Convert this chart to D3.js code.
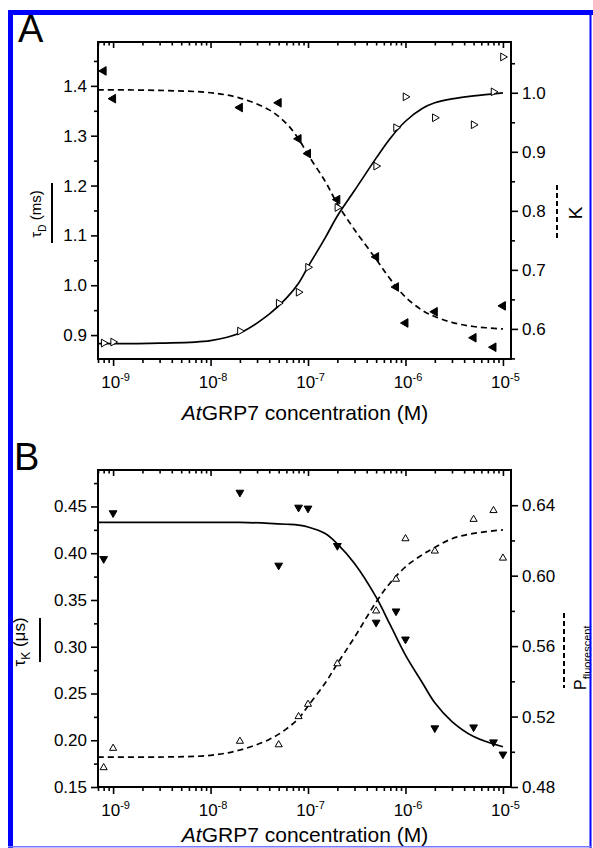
<!DOCTYPE html>
<html>
<head>
<meta charset="utf-8">
<script src="https://cdn.jsdelivr.net/npm/d3@7"></script>
<style>
  body { margin: 0; background: #fff; }
  svg { display: block; font-family: "Liberation Sans", Arial, Helvetica, sans-serif; }
</style>
</head>
<body>
<div id="fig"></div>
<script>
// AtGRP7 concentrations of the measured points (M)
const conc = [8e-10, 1e-9, 2e-8, 5e-8, 8e-8, 1e-7, 2e-7, 5e-7, 8e-7, 1e-6, 2e-6, 5e-6, 8e-6, 1e-5];

// panel A: diffusion time (left axis) and K (right axis)
const tauD = [0.884, 0.886, 0.908, 0.964, 0.986, 1.036, 1.156, 1.239, 1.316, 1.378, 1.336, 1.322, 1.388, 1.458];
const kVal = [1.037, 0.990, 0.975, 0.983, 0.922, 0.897, 0.819, 0.722, 0.671, 0.610, 0.629, 0.585, 0.569, 0.639];

// panel B: kinetic time (left axis) and fluorescent fraction (right axis)
const tauK = [0.394, 0.443, 0.465, 0.387, 0.449, 0.448, 0.408, 0.326, 0.338, 0.308, 0.213, 0.214, 0.198, 0.185];
const pFluo = [0.491, 0.502, 0.506, 0.504, 0.520, 0.527, 0.550, 0.580, 0.598, 0.621, 0.614, 0.632, 0.637, 0.610];

// fitted curves
const fitConc = [7e-10, 3e-9, 1e-8, 2e-8, 4e-8, 6e-8, 8e-8, 1e-7, 1.5e-7, 2e-7, 3e-7, 5e-7, 7e-7, 1e-6, 1.5e-6, 2e-6, 3e-6, 5e-6, 1e-5];
const fitTauD = [0.883, 0.884, 0.889, 0.904, 0.942, 0.974, 1.004, 1.037, 1.095, 1.139, 1.190, 1.255, 1.295, 1.329, 1.355, 1.366, 1.374, 1.380, 1.386];
const fitK = [1.005, 1.004, 1.000, 0.991, 0.971, 0.948, 0.922, 0.895, 0.850, 0.812, 0.768, 0.718, 0.684, 0.654, 0.631, 0.621, 0.611, 0.604, 0.600];
const fitTauK = [0.433, 0.433, 0.433, 0.433, 0.432, 0.431, 0.430, 0.428, 0.421, 0.410, 0.389, 0.353, 0.323, 0.291, 0.261, 0.240, 0.220, 0.204, 0.193];
const fitP = [0.497, 0.497, 0.498, 0.501, 0.507, 0.513, 0.519, 0.526, 0.539, 0.550, 0.565, 0.585, 0.596, 0.605, 0.612, 0.616, 0.621, 0.624, 0.626];

// tick values
const xTicks = [1e-9, 1e-8, 1e-7, 1e-6, 1e-5];
const aLeftTicks = [0.9, 1.0, 1.1, 1.2, 1.3, 1.4];
const aRightTicks = [0.6, 0.7, 0.8, 0.9, 1.0];
const bLeftTicks = [0.15, 0.20, 0.25, 0.30, 0.35, 0.40, 0.45];
const bRightTicks = [0.48, 0.52, 0.56, 0.60, 0.64];

const W = 593, H = 848;
const svg = d3.select("#fig").append("svg").attr("width", W).attr("height", H);

const x = d3.scaleLog().domain([7.0e-10, 1.21e-5]).range([98, 511]);

// minor decade ticks
const xMinor = [];
for (let d = -10; d <= -5; d++) {
  for (let k = 2; k <= 9; k++) {
    const v = k * Math.pow(10, d);
    if (v >= x.domain()[0] && v <= x.domain()[1]) xMinor.push(v);
  }
}

function halfSteps(ticks, step, dom) {
  const out = [];
  ticks.concat([ticks[0] - step]).forEach(t => {
    const v = +(t + step / 2).toFixed(4);
    if (v > dom[0] && v < dom[1] && !ticks.includes(v)) out.push(v);
  });
  return out;
}

function styleAxis(g) {
  g.select(".domain").remove();
  g.selectAll(".tick line").attr("stroke", "#000").attr("stroke-width", 1.6);
  g.selectAll(".tick text").attr("fill", "#000").attr("font-size", 17)
    .attr("font-family", "'Liberation Sans', Arial, sans-serif");
}

function panel(cfg) {
  const top = cfg.top, bottom = cfg.top + 317;
  const yL = d3.scaleLinear().domain(cfg.leftDom).range([bottom, top]);
  const yR = d3.scaleLinear().domain(cfg.rightDom).range([bottom, top]);
  const g = svg.append("g");

  // bottom axis
  const gb = g.append("g").attr("transform", `translate(0,${bottom})`);
  gb.call(d3.axisBottom(x).tickValues(xMinor).tickSize(4).tickSizeOuter(0).tickFormat(""));
  styleAxis(gb);
  const gb2 = g.append("g").attr("transform", `translate(0,${bottom})`);
  gb2.call(d3.axisBottom(x).tickValues(xTicks).tickSize(7).tickSizeOuter(0));
  styleAxis(gb2);
  gb2.selectAll(".tick text").each(function(d) {
    const t = d3.select(this).text(null).attr("y", 29).attr("dy", null).attr("x", 2);
    t.append("tspan").text("10");
    t.append("tspan").attr("font-size", 11).attr("dy", -7).text(Math.round(Math.log10(d)));
  });

  // top axis (ticks inward)
  const gt = g.append("g").attr("transform", `translate(0,${top})`);
  gt.call(d3.axisTop(x).tickValues(xMinor).tickSize(-3.5).tickSizeOuter(0).tickFormat(""));
  styleAxis(gt);
  const gt2 = g.append("g").attr("transform", `translate(0,${top})`);
  gt2.call(d3.axisTop(x).tickValues(xTicks).tickSize(-6).tickSizeOuter(0).tickFormat(""));
  styleAxis(gt2);

  // left axis
  const gl = g.append("g").attr("transform", "translate(98,0)");
  gl.call(d3.axisLeft(yL).tickValues(halfSteps(cfg.leftTicks, cfg.leftStep, cfg.leftDom)).tickSize(4).tickSizeOuter(0).tickFormat(""));
  styleAxis(gl);
  const gl2 = g.append("g").attr("transform", "translate(98,0)");
  gl2.call(d3.axisLeft(yL).tickValues(cfg.leftTicks).tickSize(7).tickPadding(4).tickSizeOuter(0).tickFormat(d3.format(cfg.fmt)));
  styleAxis(gl2);

  // right axis
  const gr = g.append("g").attr("transform", "translate(511,0)");
  gr.call(d3.axisRight(yR).tickValues(halfSteps(cfg.rightTicks, cfg.rightStep, cfg.rightDom)).tickSize(4).tickSizeOuter(0).tickFormat(""));
  styleAxis(gr);
  const gr2 = g.append("g").attr("transform", "translate(511,0)");
  gr2.call(d3.axisRight(yR).tickValues(cfg.rightTicks).tickSize(7).tickPadding(4).tickSizeOuter(0).tickFormat(d3.format(cfg.fmt)));
  styleAxis(gr2);

  // frame
  g.append("rect").attr("x", 98).attr("y", top).attr("width", 413).attr("height", 317)
    .attr("fill", "none").attr("stroke", "#000").attr("stroke-width", 2);

  // fitted curves
  const smooth = d3.curveCatmullRom.alpha(0.5);
  const lineL = d3.line().x(d => x(d[0])).y(d => yL(d[1])).curve(smooth);
  const lineR = d3.line().x(d => x(d[0])).y(d => yR(d[1])).curve(smooth);
  g.append("path").attr("d", lineL(d3.zip(fitConc, cfg.leftFit)))
    .attr("fill", "none").attr("stroke", "#000").attr("stroke-width", 1.7);
  g.append("path").attr("d", lineR(d3.zip(fitConc, cfg.rightFit)))
    .attr("fill", "none").attr("stroke", "#000").attr("stroke-width", 1.7).attr("stroke-dasharray", "6,4");

  // points
  const tri = (s) => d3.symbol(d3.symbolTriangle, s)();
  g.append("g").selectAll("path").data(d3.zip(conc, cfg.leftData)).join("path")
    .attr("d", tri(cfg.leftSize))
    .attr("transform", d => `translate(${x(d[0])},${yL(d[1])}) rotate(${cfg.leftRot})`)
    .attr("fill", cfg.leftFill).attr("stroke", "#000").attr("stroke-width", 1);
  g.append("g").selectAll("path").data(d3.zip(conc, cfg.rightData)).join("path")
    .attr("d", tri(cfg.rightSize))
    .attr("transform", d => `translate(${x(d[0])},${yR(d[1])}) rotate(${cfg.rightRot})`)
    .attr("fill", cfg.rightFill).attr("stroke", "#000").attr("stroke-width", 1);

  // x title
  const xt = g.append("text").attr("x", 305).attr("y", bottom + cfg.titleGap).attr("text-anchor", "middle").attr("font-size", 21);
  xt.append("tspan").attr("font-style", "italic").text("At");
  xt.append("tspan").text("GRP7 concentration (M)");

  // panel letter
  g.append("text").attr("x", cfg.letterX).attr("y", top).attr("font-size", 38).text(cfg.letter);
}

panel({
  top: 42, letter: "A", letterX: 18, titleGap: 61,
  leftDom: [0.852, 1.488], rightDom: [0.549, 1.086],
  leftTicks: aLeftTicks, rightTicks: aRightTicks, leftStep: 0.1, rightStep: 0.1, fmt: ".1f",
  leftFit: fitTauD, rightFit: fitK, leftData: tauD, rightData: kVal,
  leftRot: 90, leftFill: "#fff", leftSize: 26,
  rightRot: -90, rightFill: "#000", rightSize: 32
});

panel({
  top: 470, letter: "B", letterX: 14, titleGap: 55,
  leftDom: [0.15, 0.489], rightDom: [0.48, 0.66],
  leftTicks: bLeftTicks, rightTicks: bRightTicks, leftStep: 0.05, rightStep: 0.04, fmt: ".2f",
  leftFit: fitTauK, rightFit: fitP, leftData: tauK, rightData: pFluo,
  leftRot: 180, leftFill: "#000", leftSize: 26,
  rightRot: 0, rightFill: "#fff", rightSize: 22
});

// y titles with their line-style keys
function yTitle(bx, cy, size, main, sub, rest, subSize) {
  const t = svg.append("text").attr("transform", `translate(${bx},${cy}) rotate(-90)`)
    .attr("text-anchor", "middle").attr("font-size", size);
  t.append("tspan").text(main);
  t.append("tspan").attr("font-size", subSize).attr("dy", size * 0.3).text(sub);
  if (rest) t.append("tspan").attr("dy", -size * 0.3).text(rest);
  return t;
}
function key(xk, y0, y1, dashed) {
  svg.append("line").attr("x1", xk).attr("x2", xk).attr("y1", y0).attr("y2", y1)
    .attr("stroke", "#000").attr("stroke-width", 2).attr("stroke-dasharray", dashed ? "5,3" : null);
}

yTitle(41, 214, 15, "\u03c4", "D", " (ms)", 10);
key(52, 183, 243, false);
yTitle(582, 213, 19, "K", "", null, 12);
key(557, 185, 240, true);

yTitle(25, 642, 17, "\u03c4", "K", " (\u03bcs)", 12);
key(40, 618, 662, false);
svg.append("text").attr("transform", "translate(586,690) rotate(-90)").attr("font-size", 16)
  .call(t => {
    t.append("tspan").text("P");
    t.append("tspan").attr("font-size", 11).attr("dy", 5).text("fluorescent");
  });
key(564, 613, 688, true);

// blue figure border
svg.append("rect").attr("x", 8).attr("y", 10).attr("width", 5).attr("height", H - 10).attr("fill", "#0000ff");
svg.append("rect").attr("x", 8).attr("y", 10).attr("width", 585).attr("height", 5).attr("fill", "#0000ff");
svg.append("rect").attr("x", 589.5).attr("y", 10).attr("width", 2).attr("height", H - 10).attr("fill", "#0000ff");
svg.append("rect").attr("x", 8).attr("y", 846).attr("width", 584).attr("height", 1.5).attr("fill", "#7777ff");
</script>
</body>
</html>
